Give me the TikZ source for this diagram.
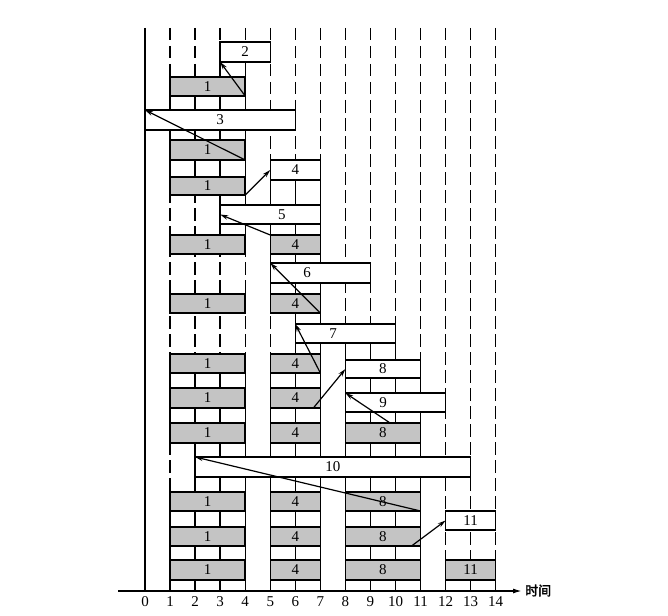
\documentclass[tikz,border=0pt]{standalone}
\usepackage{fontspec}
\setmainfont{Liberation Serif}
\newfontfamily\cjk[FakeBold=2.5]{Noto Sans CJK SC}
\usetikzlibrary{arrows.meta}
\newcommand\bx[6]{\node[#6, minimum width={(#3-#2)*25.05pt}, minimum height={(#5-#4)*1pt}] (#1) at ({145+25.05*#2},#4) {};}
\newcommand\sg[3]{\foreach \i in {#1} {\draw[seg] ({145+25.05*\i},#2) -- ({145+25.05*\i},#3);}}
\begin{document}
\begin{tikzpicture}[x=1pt,y=-1pt,
  grid/.style={line width=1.4pt, dash pattern=on 12.5pt off 5.5pt},
  seg/.style={line width=1.4pt},
  boxbase/.style={draw, line width=1.5pt, inner sep=0pt, outer sep=0pt, anchor=north west},
  w/.style={boxbase, fill=white},
  g/.style={boxbase, fill=black!23},
  num/.style={font=\fontsize{15}{17}\selectfont, inner sep=0pt},
  arr/.style={line width=1.2pt, -{Stealth[length=8pt,width=4.5pt]}},
  axis/.style={line width=1.5pt, -{Latex[length=9pt,width=5pt]}}]
\useasboundingbox (0,0) rectangle (668,615);
% grid lines
\draw[line width=1.4pt] (145,28) -- (145,591);
\foreach \i in {1,...,14} {\draw[grid] ({145+25.05*\i},28) -- ({145+25.05*\i},591);}
% solid links between stacked boxes
\sg{3,4}{62}{77}
\sg{1,2,3,4}{96}{110}
\sg{1,2,3,4}{130}{140}
\sg{1,2,3,4}{160}{177}
\sg{5,6,7}{180}{205}
\sg{3,4}{195}{205}
\sg{3,4,5,6,7}{224}{235}
\sg{5,6,7}{254}{263}
\sg{5,6,7}{283}{294}
\sg{6,7}{313}{324}
\sg{6,7}{343}{354}
\sg{8,9,10}{343}{360}
\sg{1,2,3,4,5,6,7}{373}{388}
\sg{8,9,10,11}{378}{393}
\sg{1,2,3,4,5,6,7}{408}{423}
\sg{8,9,10,11}{412}{423}
\sg{2,3,4,5,6,7,8,9,10,11}{443}{457}
\sg{2,3,4,5,6,7,8,9,10,11}{477}{492}
\sg{1,2,3,4,5,6,7,8,9,10,11}{511}{527}
\sg{1,2,3,4,5,6,7,8,9,10,11}{546}{560}
\sg{1,2,3,4,5,6,7,8,9,10,11,12,13,14}{580}{591}
% boxes
\bx{b2}{3}{5}{42}{62}{w}
\bx{bB}{1}{4}{77}{96}{g}
\bx{b3}{0}{6}{110}{130}{w}
\bx{bD}{1}{4}{140}{160}{g}
\bx{bE4}{5}{7}{160}{180}{w}
\bx{bE1}{1}{4}{177}{195}{g}
\bx{b5}{3}{7}{205}{224}{w}
\bx{bG1}{1}{4}{235}{254}{g}
\bx{bG4}{5}{7}{235}{254}{g}
\bx{b6}{5}{9}{263}{283}{w}
\bx{bI1}{1}{4}{294}{313}{g}
\bx{bI4}{5}{7}{294}{313}{g}
\bx{b7}{6}{10}{324}{343}{w}
\bx{bK1}{1}{4}{354}{373}{g}
\bx{bK4}{5}{7}{354}{373}{g}
\bx{bK8}{8}{11}{360}{378}{w}
\bx{bL1}{1}{4}{388}{408}{g}
\bx{bL4}{5}{7}{388}{408}{g}
\bx{b9}{8}{12}{393}{412}{w}
\bx{bM1}{1}{4}{423}{443}{g}
\bx{bM4}{5}{7}{423}{443}{g}
\bx{bM8}{8}{11}{423}{443}{g}
\bx{b10}{2}{13}{457}{477}{w}
\bx{bO1}{1}{4}{492}{511}{g}
\bx{bO4}{5}{7}{492}{511}{g}
\bx{bO8}{8}{11}{492}{511}{g}
\bx{b11w}{12}{14}{511}{530}{w}
\bx{bQ1}{1}{4}{527}{546}{g}
\bx{bQ4}{5}{7}{527}{546}{g}
\bx{bQ8}{8}{11}{527}{546}{g}
\bx{bR1}{1}{4}{560}{580}{g}
\bx{bR4}{5}{7}{560}{580}{g}
\bx{bR8}{8}{11}{560}{580}{g}
\bx{bR11}{12}{14}{560}{580}{g}
% labels
\node[num] (t2) at (b2.center) {2};
\node[num] (tB) at (bB.center) {1};
\node[num] (t3) at (b3.center) {3};
\node[num] (tD) at (bD.center) {1};
\node[num] (tE4) at (bE4.center) {4};
\node[num] (tE1) at (bE1.center) {1};
\node[num] (t5) at ([xshift=11.7pt]b5.center) {5};
\node[num] (tG1) at (bG1.center) {1};
\node[num] (tG4) at (bG4.center) {4};
\node[num] (t6) at ([xshift=-13.3pt]b6.center) {6};
\node[num] (tI1) at (bI1.center) {1};
\node[num] (tI4) at (bI4.center) {4};
\node[num] (t7) at ([xshift=-12.3pt]b7.center) {7};
\node[num] (tK1) at (bK1.center) {1};
\node[num] (tK4) at (bK4.center) {4};
\node[num] (tK8) at (bK8.center) {8};
\node[num] (tL1) at (bL1.center) {1};
\node[num] (tL4) at (bL4.center) {4};
\node[num] (t9) at ([xshift=-12.5pt]b9.center) {9};
\node[num] (tM1) at (bM1.center) {1};
\node[num] (tM4) at (bM4.center) {4};
\node[num] (tM8) at (bM8.center) {8};
\node[num] (t10) at (b10.center) {10};
\node[num] (tO1) at (bO1.center) {1};
\node[num] (tO4) at (bO4.center) {4};
\node[num] (tO8) at (bO8.center) {8};
\node[num] (t11w) at (b11w.center) {11};
\node[num] (tQ1) at (bQ1.center) {1};
\node[num] (tQ4) at (bQ4.center) {4};
\node[num] (tQ8) at (bQ8.center) {8};
\node[num] (tR1) at (bR1.center) {1};
\node[num] (tR4) at (bR4.center) {4};
\node[num] (tR8) at (bR8.center) {8};
\node[num] (tR11) at (bR11.center) {11};
% arrows
\draw[arr] (bB.south east) -- (b2.south west);
\draw[arr] (bD.south east) -- (b3.north west);
\draw[arr] (bE1.south east) -- (bE4.west);
\draw[arr] (bG4.north west) -- (b5.west);
\draw[arr] (bI4.south east) -- (b6.north west);
\draw[arr] (bK4.south east) -- (b7.north west);
\draw[arr] ([xshift=-7pt]bL4.south east) -- (bK8.west);
\draw[arr] ([xshift=-30.5pt]bM8.north east) -- (b9.north west);
\draw[arr] (bO8.south east) -- (b10.north west);
\draw[arr] ([xshift=-9pt]bQ8.south east) -- (b11w.west);
% axis
\coordinate (ax0) at (118,591);
\coordinate (ax1) at (522,591);
\draw[axis] (ax0) -- (ax1);
\foreach \i in {0,...,14} {\node[num] (n\i) at ({145+25.05*\i},602) {\i};}
\node[anchor=west, inner sep=0pt, font=\cjk\fontsize{13}{13}\selectfont] (tl) at (525,590.5) {时间};
\end{tikzpicture}
\end{document}
